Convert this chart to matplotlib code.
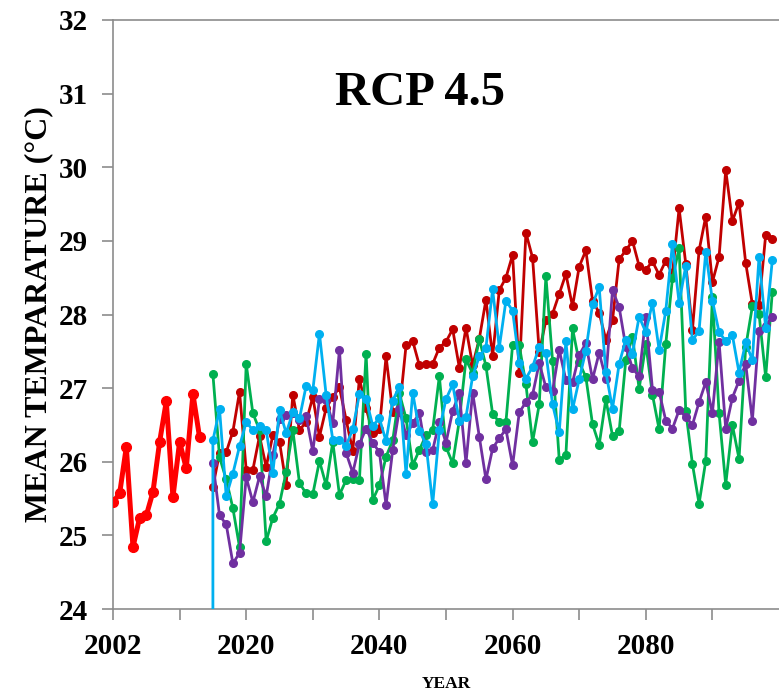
import matplotlib
matplotlib.use('Agg')
import matplotlib.pyplot as plt

# observed record
obs_years = list(range(2000, 2014))
obs_temp = [25.45, 25.57, 26.20, 24.84, 25.24, 25.27, 25.59, 26.27, 26.82, 25.52,
            26.27, 25.91, 26.92, 26.33]

# model projections 2015-2099
proj_years = list(range(2015, 2100))
model_red = [25.66, 26.12, 26.13, 26.41, 26.95, 25.89, 25.89, 26.35, 25.93, 26.36,
             26.27, 25.69, 26.91, 26.43, 26.54, 26.88, 26.34, 26.73, 26.88, 27.01,
             26.57, 26.15, 27.13, 26.73, 26.39, 26.45, 27.43, 26.68, 26.68, 27.58,
             27.64, 27.31, 27.33, 27.33, 27.55, 27.63, 27.80, 27.28, 27.82, 27.31,
             27.67, 28.20, 27.43, 28.33, 28.50, 28.81, 27.21, 29.11, 28.77, 27.49,
             27.92, 28.01, 28.28, 28.55, 28.11, 28.65, 28.87, 28.19, 28.02, 27.66,
             27.92, 28.75, 28.87, 29.00, 28.66, 28.61, 28.72, 28.54, 28.73, 28.55,
             29.44, 28.69, 27.79, 28.87, 29.33, 28.44, 28.78, 29.96, 29.27, 29.52,
             28.70, 28.14, 28.13, 29.08, 29.02]
model_green = [27.19, 26.06, 25.76, 25.37, 24.84, 27.33, 26.66, 26.43, 24.92, 25.24,
               25.43, 25.86, 26.43, 25.71, 25.57, 25.56, 26.01, 25.68, 26.27, 25.55,
               25.75, 25.77, 25.75, 27.47, 25.48, 25.68, 26.07, 26.29, 26.93, 26.59,
               25.95, 26.16, 26.36, 26.43, 27.16, 26.20, 25.98, 26.56, 27.39, 27.20,
               27.67, 27.30, 26.65, 26.54, 26.54, 27.59, 27.58, 27.05, 26.27, 26.78,
               28.52, 27.37, 26.03, 26.09, 27.81, 27.35, 27.15, 26.51, 26.23, 26.85,
               26.35, 26.42, 27.38, 27.70, 26.99, 27.60, 26.91, 26.44, 27.60, 28.49,
               28.90, 26.69, 25.97, 25.43, 26.01, 28.24, 26.66, 25.69, 26.50, 26.04,
               27.56, 28.11, 28.01, 27.15, 28.31]
model_purple = [25.98, 25.27, 25.15, 24.62, 24.76, 25.79, 25.45, 25.80, 25.53, 26.09,
                26.58, 26.63, 26.66, 26.57, 26.62, 26.14, 26.85, 26.84, 26.52, 27.52,
                26.12, 25.85, 26.24, 26.45, 26.26, 26.13, 25.41, 26.16, 26.71, 26.36,
                26.52, 26.66, 26.13, 26.16, 26.54, 26.26, 26.69, 26.93, 25.98, 26.94,
                26.34, 25.76, 26.18, 26.32, 26.44, 25.95, 26.67, 26.81, 26.91, 27.34,
                27.01, 26.96, 27.52, 27.11, 27.08, 27.45, 27.61, 27.12, 27.48, 27.13,
                28.33, 28.10, 27.56, 27.27, 27.16, 27.96, 26.98, 26.95, 26.56, 26.45,
                26.70, 26.61, 26.50, 26.81, 27.08, 26.66, 27.63, 26.45, 26.87, 27.10,
                27.33, 26.56, 27.78, 27.85, 27.97]
model_blue = [26.29, 26.71, 25.53, 25.84, 26.21, 26.54, 26.43, 26.48, 26.43, 25.85,
              26.70, 26.39, 26.67, 26.59, 27.03, 26.97, 27.74, 26.91, 26.30, 26.29,
              26.22, 26.44, 26.92, 26.85, 26.49, 26.59, 26.28, 26.83, 27.02, 25.83,
              26.94, 26.42, 26.24, 25.42, 26.43, 26.85, 27.05, 26.56, 26.61, 27.16,
              27.43, 27.55, 28.34, 27.55, 28.19, 28.05, 27.34, 27.13, 27.29, 27.56,
              27.48, 26.78, 26.40, 27.64, 26.71, 27.12, 27.51, 28.14, 28.37, 27.22,
              26.72, 27.33, 27.66, 27.47, 27.97, 27.76, 28.16, 27.52, 28.05, 28.96,
              28.16, 28.66, 27.65, 27.78, 28.85, 28.19, 27.76, 27.64, 27.72, 27.21,
              27.62, 27.38, 28.78, 27.82, 28.74]
# the blue series in the source starts from a zero entry at 2015
blue_start = 0.0

xticks = list(range(2000, 2100, 10))
xtick_labels = ['2002', '', '2020', '', '2040', '', '2060', '', '2080', '']
yticks = list(range(24, 33))

plt.rcParams['font.family'] = ['Liberation Serif', 'DejaVu Serif']
plt.rcParams['font.weight'] = 'bold'

fig = plt.figure(figsize=(7.79, 6.98), dpi=100)
ax = fig.add_axes([113/779, 1 - 609/698, 666/779, 589/698])

ax.plot(obs_years, obs_temp, color='#FF0000', lw=3.6, marker='o', ms=7, zorder=5)
ax.plot(proj_years, model_red, color='#C00000', lw=2, marker='o', ms=5.5, zorder=3)
ax.plot(proj_years, model_green, color='#00B050', lw=2, marker='o', ms=5.5, zorder=3)
ax.plot(proj_years, model_purple, color='#7030A0', lw=2, marker='o', ms=5.5, zorder=3)
ax.plot([proj_years[0]] + proj_years, [blue_start] + model_blue, color='#00B0F0',
        lw=2, marker='o', ms=5.5, zorder=4)

ax.set_xlim(2000, 2100)
ax.set_ylim(24, 32)
ax.set_xticks(xticks)
ax.set_xticklabels(xtick_labels)
ax.set_yticks(yticks)

for side in ['left', 'bottom', 'top']:
    ax.spines[side].set_color('#8C8C8C')
    ax.spines[side].set_linewidth(1.2)
ax.spines['right'].set_visible(False)
ax.tick_params(axis='both', colors='#8C8C8C', length=8, width=1.2, labelsize=21,
               labelcolor='black')
ax.tick_params(axis='x', pad=9)
ax.tick_params(axis='y', pad=10)
ax.tick_params(top=False)

ax.set_ylabel('MEAN TEMPARATURE (°C)', fontsize=23, fontweight='bold', labelpad=4)
ax.set_xlabel('YEAR', fontsize=12.5, fontweight='bold', labelpad=12)
ax.text(0.461, 0.876, 'RCP 4.5', transform=ax.transAxes, fontsize=35,
        fontweight='bold', ha='center', va='center')

fig.savefig('out.png', dpi=100)
